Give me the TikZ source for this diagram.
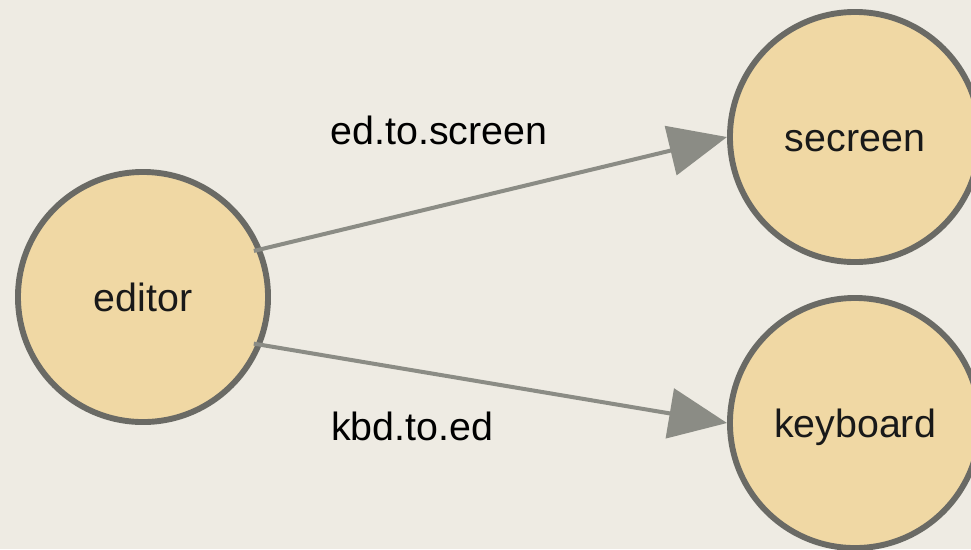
\documentclass[tikz,border=0pt]{standalone}
\usepackage{fontspec}
\setmainfont{Liberation Sans}
\usepackage{tikz}
\usetikzlibrary{positioning,arrows.meta}

\definecolor{paper}{HTML}{EEEBE3}
\definecolor{nodefill}{HTML}{F0D8A4}
\definecolor{nodeline}{HTML}{6A6A65}
\definecolor{edgeline}{HTML}{8B8C85}

\tikzset{
	proc/.style={draw=nodeline,
		circle,
		line width=4.2pt,
		minimum size=6.25cm,
		fill=nodefill,
		text=black!90,
		text height=0.72cm,
		text depth=0cm,
		font=\fontsize{28}{33}\selectfont
	},
	chan/.style={draw=edgeline,
		line width=2.85pt,
		shorten <=-0.2cm,
		-{Triangle[length=1.45cm,width=1.25cm]}
	},
	chanlabel/.style={font=\fontsize{28}{33}\selectfont}
}

\begin{document}
\begin{tikzpicture}[x=0.025cm,y=-0.025cm]

\useasboundingbox[fill=paper] (0,0) rectangle (971,549);

% Editor process
\node[proc] (editor) at (143,297){editor};

% Screen process
\node[proc] (screen) at (855,137){secreen};

% Keyboard process
\node[proc] (keyboard) at (855,423){keyboard};

% Channels
\draw[chan] (editor.22) -- (screen.west);

\draw[chan] (editor.-22) -- (keyboard.west);

% Channel labels
\node[chanlabel] (edlabel) at (439,130){ed.to.screen};

\node[chanlabel] (kbdlabel) at (412,426){kbd.to.ed};

\end{tikzpicture}
\end{document}
